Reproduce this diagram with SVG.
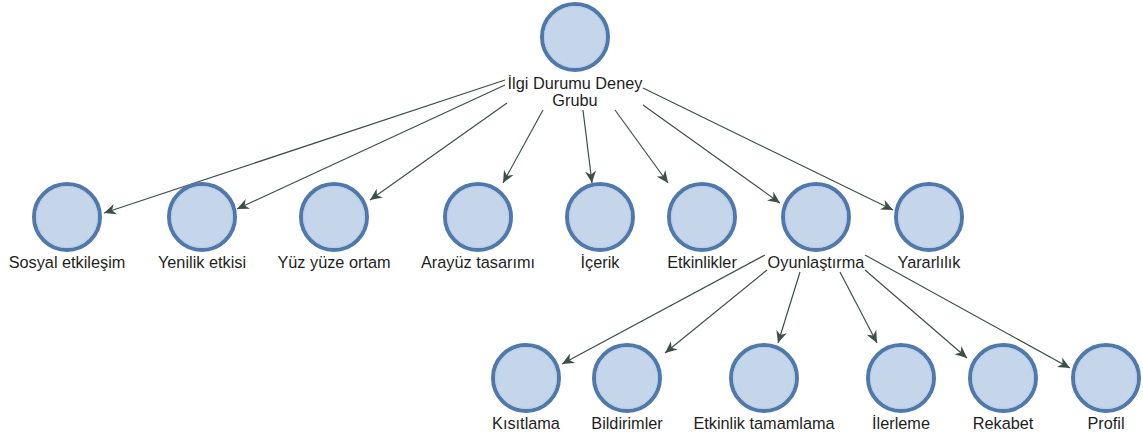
<svg xmlns="http://www.w3.org/2000/svg" width="1143" height="439" viewBox="0 0 1143 439">
  <defs>
    <marker id="arrow" viewBox="0 0 10 10" refX="10" refY="5" markerWidth="12" markerHeight="12" markerUnits="userSpaceOnUse" orient="auto">
      <path d="M0,0.5 L10,5 L0,9.5 L3,5 Z" fill="#3d5048"/>
    </marker>
    <style>
      .node circle.ring { fill: #c6d6ea; stroke: #5079aa; stroke-width: 4; }
      .node circle.inner { fill: none; stroke: #b3cdf0; stroke-width: 1; }
      .node text { font-family: "Liberation Sans", Arial, sans-serif; font-size: 16.3px; fill: #1e1e1e; text-anchor: middle; }
      .edges line { stroke: #3d5048; stroke-width: 1.2; marker-end: url(#arrow); }
    </style>
  </defs>
  <rect width="1143" height="439" fill="#ffffff"/>

  <g class="edges">
    <!-- root to second level -->
    <line x1="505" y1="80" x2="104" y2="213"/>
    <line x1="505" y1="85" x2="237" y2="209"/>
    <line x1="507" y1="103" x2="370" y2="200"/>
    <line x1="543" y1="110" x2="503" y2="183"/>
    <line x1="583" y1="110" x2="592" y2="183"/>
    <line x1="615" y1="110" x2="668" y2="183"/>
    <line x1="643" y1="105" x2="780" y2="203"/>
    <line x1="643" y1="88" x2="893" y2="210"/>
    <!-- Oyunlaştırma to third level -->
    <line x1="765" y1="255" x2="562" y2="364"/>
    <line x1="767" y1="270" x2="665" y2="353"/>
    <line x1="800" y1="272" x2="778" y2="343"/>
    <line x1="840" y1="272" x2="877" y2="343"/>
    <line x1="865" y1="270" x2="967" y2="358"/>
    <line x1="865" y1="255" x2="1070" y2="368"/>
  </g>

  <g id="node-ilgi-durumu" class="node">
    <circle class="ring" cx="575" cy="37" r="33"/>
    <circle class="inner" cx="575" cy="37" r="30.5"/>
    <text x="575" y="89">İlgi Durumu Deney</text>
    <text x="575" y="106">Grubu</text>
  </g>

  <g id="node-sosyal-etkilesim" class="node">
    <circle class="ring" cx="67" cy="217" r="33"/>
    <circle class="inner" cx="67" cy="217" r="30.5"/>
    <text x="67" y="268">Sosyal etkileşim</text>
  </g>
  <g id="node-yenilik-etkisi" class="node">
    <circle class="ring" cx="202" cy="217" r="33"/>
    <circle class="inner" cx="202" cy="217" r="30.5"/>
    <text x="202" y="268">Yenilik etkisi</text>
  </g>
  <g id="node-yuz-yuze-ortam" class="node">
    <circle class="ring" cx="334" cy="217" r="33"/>
    <circle class="inner" cx="334" cy="217" r="30.5"/>
    <text x="334" y="268">Yüz yüze ortam</text>
  </g>
  <g id="node-arayuz-tasarimi" class="node">
    <circle class="ring" cx="478" cy="217" r="33"/>
    <circle class="inner" cx="478" cy="217" r="30.5"/>
    <text x="478" y="268">Arayüz tasarımı</text>
  </g>
  <g id="node-icerik" class="node">
    <circle class="ring" cx="600" cy="217" r="33"/>
    <circle class="inner" cx="600" cy="217" r="30.5"/>
    <text x="600" y="268">İçerik</text>
  </g>
  <g id="node-etkinlikler" class="node">
    <circle class="ring" cx="702" cy="217" r="33"/>
    <circle class="inner" cx="702" cy="217" r="30.5"/>
    <text x="702" y="268">Etkinlikler</text>
  </g>
  <g id="node-oyunlastirma" class="node">
    <circle class="ring" cx="816" cy="217" r="33"/>
    <circle class="inner" cx="816" cy="217" r="30.5"/>
    <text x="816" y="268">Oyunlaştırma</text>
  </g>
  <g id="node-yararlilik" class="node">
    <circle class="ring" cx="929" cy="217" r="33"/>
    <circle class="inner" cx="929" cy="217" r="30.5"/>
    <text x="929" y="268">Yararlılık</text>
  </g>

  <g id="node-kisitlama" class="node">
    <circle class="ring" cx="526" cy="378" r="33"/>
    <circle class="inner" cx="526" cy="378" r="30.5"/>
    <text x="526" y="429">Kısıtlama</text>
  </g>
  <g id="node-bildirimler" class="node">
    <circle class="ring" cx="627" cy="378" r="33"/>
    <circle class="inner" cx="627" cy="378" r="30.5"/>
    <text x="627" y="429">Bildirimler</text>
  </g>
  <g id="node-etkinlik-tamamlama" class="node">
    <circle class="ring" cx="764" cy="378" r="33"/>
    <circle class="inner" cx="764" cy="378" r="30.5"/>
    <text x="764" y="429">Etkinlik tamamlama</text>
  </g>
  <g id="node-ilerleme" class="node">
    <circle class="ring" cx="901" cy="378" r="33"/>
    <circle class="inner" cx="901" cy="378" r="30.5"/>
    <text x="901" y="429">İlerleme</text>
  </g>
  <g id="node-rekabet" class="node">
    <circle class="ring" cx="1003" cy="378" r="33"/>
    <circle class="inner" cx="1003" cy="378" r="30.5"/>
    <text x="1003" y="429">Rekabet</text>
  </g>
  <g id="node-profil" class="node">
    <circle class="ring" cx="1106" cy="378" r="33"/>
    <circle class="inner" cx="1106" cy="378" r="30.5"/>
    <text x="1106" y="429">Profil</text>
  </g>
</svg>
